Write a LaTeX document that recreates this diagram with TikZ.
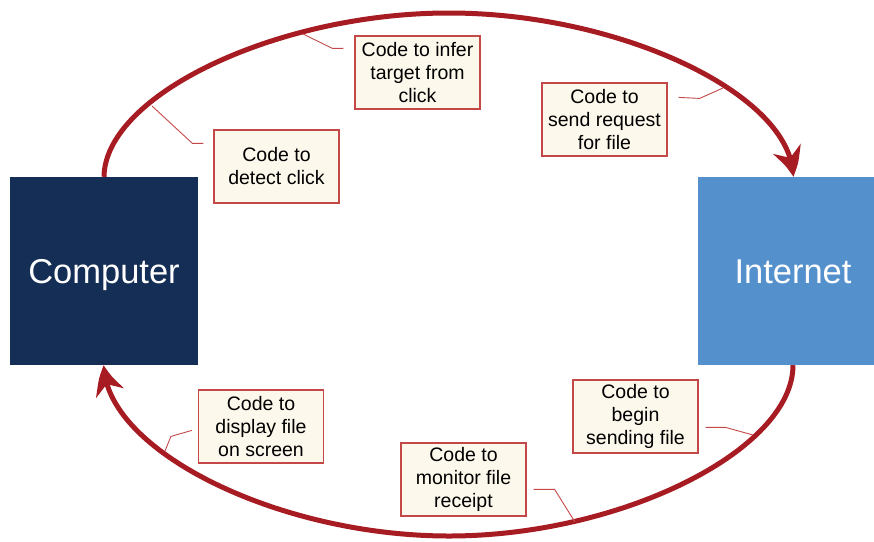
\documentclass[tikz,border=0pt]{standalone}
\usepackage{fontspec}
\setmainfont{Liberation Sans}
\usetikzlibrary{arrows.meta,bending}
\definecolor{navybox}{RGB}{21,46,85}
\definecolor{netblue}{RGB}{84,144,204}
\definecolor{flowred}{RGB}{166,28,34}
\definecolor{noteedge}{RGB}{196,72,72}
\definecolor{notefill}{RGB}{253,248,236}
\begin{document}
\begin{tikzpicture}[x=1pt, y=-1pt,
    machine/.style={fill=#1, minimum height=188pt, inner sep=0pt, text=white,
        text height=24.5pt, text depth=0pt, font=\fontsize{34.5}{40}\selectfont},
    note/.style={draw=noteedge, line width=1.2pt, fill=notefill, minimum width=125pt,
        minimum height=73pt, inner sep=0pt, align=center, font=\fontsize{19.5}{23}\selectfont},
    flow/.style={draw=flowred, line width=5pt, -{Stealth[length=28pt, width=29pt, inset=9pt, bend]}},
    leader/.style={draw=noteedge, line width=0.9pt}]

    \useasboundingbox (0,0) rectangle (874,541);

    \node[machine=navybox, minimum width=188pt] (computer) at (104,271) {Computer};
    \node[machine=netblue, minimum width=190pt] (internet) at (793,271) {Internet};

    \draw[flow] (computer.north) .. controls (105,95) and (277,13) .. (449,13)
        .. controls (621,13) and (793,95) .. (internet.north);
    \draw[flow] (internet.south) .. controls (793,450) and (621,536) .. (449,536)
        .. controls (277,536) and (105,450) .. (computer.south);

    \node[note] (infer) at (417.5,72.5) {Code to infer\\target from\\click};
    \node[note] (detect) at (276.5,166.5) {Code to\\detect click};
    \node[note] (request) at (604.5,119.5) {Code to\\send request\\for file};
    \node[note] (display) at (261,426.5) {Code to\\display file\\on screen};
    \node[note] (monitor) at (463.5,479.5) {Code to\\monitor file\\receipt};
    \node[note] (sending) at (635.5,416.5) {Code to\\begin\\sending file};

    \coordinate (infer-tip) at (303,34);
    \coordinate (detect-tip) at (152,106);
    \coordinate (request-tip) at (723,88);
    \coordinate (display-tip) at (165,451);
    \coordinate (monitor-tip) at (575,522);
    \coordinate (sending-tip) at (753,435);

    \draw[leader] ([xshift=-11pt, yshift=-13pt]infer.north west) -- ++(-11,0) -- (infer-tip);
    \draw[leader] ([xshift=-10pt, yshift=-14pt]detect.north west) -- ++(-11,0) -- (detect-tip);
    \draw[leader] ([xshift=11pt, yshift=-15pt]request.north east) -- ++(21,1) -- (request-tip);
    \draw[leader] ([xshift=-6pt, yshift=-41pt]display.north west) -- ++(-21,6) -- (display-tip);
    \draw[leader] ([xshift=7pt, yshift=-47pt]monitor.north east) -- ++(21,0) -- (monitor-tip);
    \draw[leader] ([xshift=7pt, yshift=-48pt]sending.north east) -- ++(20,0) -- (sending-tip);

\end{tikzpicture}
\end{document}
